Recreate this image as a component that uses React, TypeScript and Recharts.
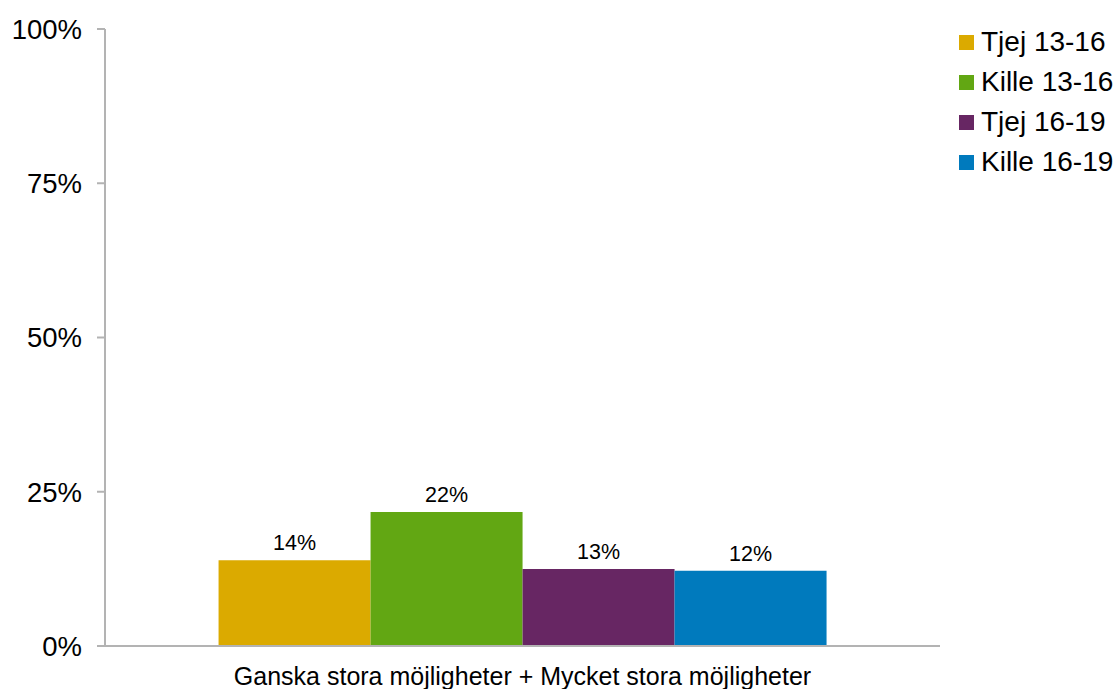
import { BarChart, Bar, XAxis, YAxis, LabelList } from "recharts";

const categories = ["Ganska stora möjligheter + Mycket stora möjligheter"];
const seriesNames = ["Tjej 13-16", "Kille 13-16", "Tjej 16-19", "Kille 16-19"];
const seriesValues = [13.9, 21.7, 12.5, 12.2];
const seriesColors = ["#DBAA00", "#62A713", "#672663", "#007ABD"];
const yTicks = [0, 25, 50, 75, 100];

const data = categories.map((name) => {
  const row: Record<string, string | number> = { name };
  seriesNames.forEach((s, i) => {
    row[s] = seriesValues[i];
  });
  return row;
});

const font = "'Liberation Sans', Arial, sans-serif";
const axisColor = "#B3B3B3";

function LegendBox() {
  return (
    <div style={{ position: "absolute", left: 959, top: 22, fontFamily: font }}>
      {seriesNames.map((s, i) => (
        <div key={s} style={{ display: "flex", alignItems: "center", height: 40, fontSize: 28, color: "#000", whiteSpace: "nowrap" }}>
          <span style={{ width: 15, height: 15, background: seriesColors[i], marginRight: 7, display: "inline-block" }} />
          {s}
        </div>
      ))}
    </div>
  );
}

export default function App() {
  return (
    <div style={{ position: "absolute", left: 0, top: 0, width: 1117, height: 689, background: "#fff" }}>
      <BarChart
        width={1117}
        height={689}
        data={data}
        margin={{ top: 29, right: 177, bottom: 0, left: 0 }}
        barCategoryGap="13.6%"
        barGap={0}
      >
        <XAxis
          dataKey="name"
          height={43}
          axisLine={{ stroke: axisColor, strokeWidth: 2 }}
          tickLine={false}
          tickSize={0}
          tickMargin={21}
          tick={{ fontSize: 25, fill: "#000", fontFamily: font }}
        />
        <XAxis
          xAxisId="edge"
          type="number"
          domain={[0, 1]}
          ticks={[0, 1]}
          height={0}
          axisLine={false}
          tickSize={7}
          tickLine={{ stroke: axisColor, strokeWidth: 2 }}
          tickFormatter={() => ""}
        />
        <YAxis
          width={105}
          domain={[0, 100]}
          ticks={yTicks}
          tickFormatter={(v: number) => `${v}%`}
          axisLine={{ stroke: axisColor, strokeWidth: 2 }}
          tickLine={{ stroke: axisColor, strokeWidth: 2 }}
          tickSize={8}
          tickMargin={15}
          tick={{ fontSize: 27.5, fill: "#000", fontFamily: font }}
        />
        {seriesNames.map((s, i) => (
          <Bar key={s} dataKey={s} fill={seriesColors[i]} isAnimationActive={false}>
            <LabelList
              dataKey={s}
              position="top"
              offset={10}
              formatter={(v: number) => `${Math.round(v)}%`}
              style={{ fontSize: 21.5, fill: "#000", fontFamily: font }}
            />
          </Bar>
        ))}
      </BarChart>
      <LegendBox />
    </div>
  );
}
